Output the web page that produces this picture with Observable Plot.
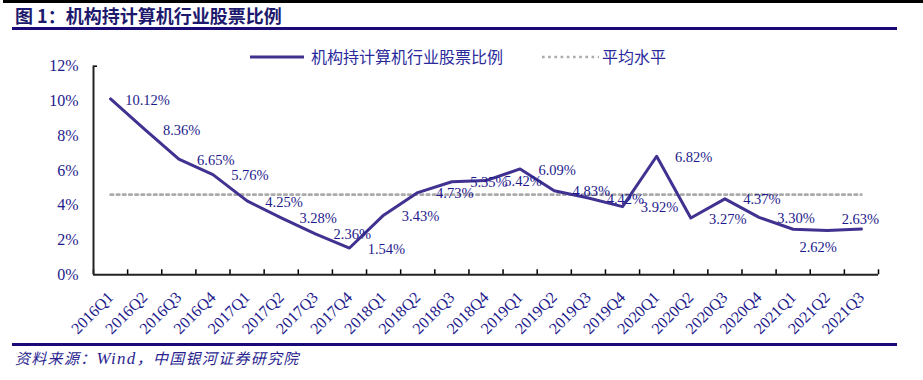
<!DOCTYPE html>
<html>
<head>
<meta charset="utf-8">
<script src="https://cdn.jsdelivr.net/npm/d3@7"></script>
<script src="https://cdn.jsdelivr.net/npm/@observablehq/plot@0.6"></script>
<style>
  html, body { margin: 0; padding: 0; background: #fff; }
  #wrap { position: relative; width: 923px; height: 380px; overflow: hidden; font-family: "Liberation Serif", "Noto Sans CJK SC", serif; }
  .abs { position: absolute; }
  #topline { left: 3px; top: 0; width: 920px; height: 3px; background: #000; }
  #title { left: 15px; top: 3px; font-family: "Noto Sans CJK SC", sans-serif; font-weight: 700; font-size: 18px; color: #1d1a6e; line-height: 24px; white-space: nowrap; }
  #titleline { left: 12px; top: 27px; width: 885px; height: 2.5px; background: #1a0a78; }
  #footline { left: 12px; top: 343px; width: 885px; height: 2.5px; background: #1a0a78; }
  #foot { left: 15px; top: 347px; font-family: "Noto Sans CJK SC", sans-serif; font-style: italic; font-size: 15px; color: #2b1f8f; line-height: 22px; white-space: nowrap; letter-spacing: 1.3px; }
  #foot .lat { font-family: "Liberation Serif", serif; font-size: 17px; }
  .legtext { font-family: "Noto Sans CJK SC", sans-serif; font-size: 16px; color: #2a2a9c; line-height: 20px; white-space: nowrap; top: 46px; }
  #chart { left: 0; top: 40px; }
</style>
</head>
<body>
<div id="wrap">
  <div id="topline" class="abs"></div>
  <div id="title" class="abs">图 1：机构持计算机行业股票比例</div>
  <div id="titleline" class="abs"></div>
  <div id="chart" class="abs"></div>
  <svg class="abs" style="left:248px;top:50px" width="60" height="14"><line x1="2" x2="56" y1="7" y2="7" stroke="#3f3290" stroke-width="3"/></svg>
  <div class="abs legtext" style="left:311px">机构持计算机行业股票比例</div>
  <svg class="abs" style="left:539px;top:50px" width="62" height="14"><line x1="3" x2="60" y1="7" y2="7" stroke="#ababab" stroke-width="2.6" stroke-dasharray="2.6,3.6"/></svg>
  <div class="abs legtext" style="left:602px">平均水平</div>
  <div id="footline" class="abs"></div>
  <div id="foot" class="abs">资料来源：<span class="lat">Wind</span>，中国银河证券研究院</div>
</div>
<script>
// ---- data ----
const quarters = ["2016Q1","2016Q2","2016Q3","2016Q4","2017Q1","2017Q2","2017Q3","2017Q4",
  "2018Q1","2018Q2","2018Q3","2018Q4","2019Q1","2019Q2","2019Q3","2019Q4",
  "2020Q1","2020Q2","2020Q3","2020Q4","2021Q1","2021Q2","2021Q3"];
const shares = [10.12, 8.36, 6.65, 5.76, 4.25, 3.28, 2.36, 1.54,
  3.43, 4.73, 5.35, 5.42, 6.09, 4.83, 4.42, 3.92,
  6.82, 3.27, 4.37, 3.30, 2.62, 2.55, 2.63];
// which points carry a data label in the original
const labelled = [true,true,true,true,true,true,true,true,
  true,true,true,true,true,true,true,true,
  true,true,true,true,true,false,true];
const avgLevel = 4.61;
const yTicks = [0, 2, 4, 6, 8, 10, 12];
const seriesName = "机构持计算机行业股票比例";
const avgName = "平均水平";

const rows = quarters.map((q, i) => ({i, q, v: shares[i], lab: labelled[i]}));
const avgRows = quarters.map((q, i) => ({i, v: avgLevel}));

const navy = "#1e1a8c";
const lineColor = "#3f3290";
const serif = "Liberation Serif";
const fmt = v => v.toFixed(2) + "%";
const n = quarters.length;

const mainLabels = rows.filter(d => d.lab && d.i < n - 3);
const lateA = rows.filter(d => d.lab && d.i === n - 3);
const lateB = rows.filter(d => d.lab && d.i === n - 1);

const chart = Plot.plot({
  width: 923,
  height: 300,
  marginTop: 25.7,
  marginBottom: 65.7,
  marginLeft: 93,
  marginRight: 45,
  x: {type: "linear", domain: [-0.5, n - 0.5], axis: null},
  y: {domain: [0, 12], axis: null},
  style: {fontFamily: serif, background: "transparent", overflow: "visible"},
  marks: [
    Plot.axisY({ticks: yTicks, tickFormat: d => d + "%", tickSize: 0, tickPadding: 15, fontSize: 16, fontFamily: serif, color: navy, label: null}),
    Plot.axisY({ticks: [12], tickFormat: () => "", tickSize: -4, stroke: "#000", strokeWidth: 1.5, label: null}),
    Plot.axisX({ticks: d3.range(n), tickFormat: i => quarters[i], tickSize: 0, tickRotate: -45, tickPadding: 20, fontSize: 16, fontFamily: serif, color: navy, label: null}),
    Plot.axisX({ticks: d3.range(n + 1).map(i => i - 0.5), tickFormat: () => "", tickSize: -5, stroke: "#000", strokeWidth: 1.5, label: null}),
    Plot.line(avgRows, {x: "i", y: "v", stroke: "#ababab", strokeWidth: 2.6, strokeDasharray: "2.6,3.6"}),
    Plot.line(rows, {x: "i", y: "v", stroke: lineColor, strokeWidth: 3, strokeLinejoin: "round"}),
    Plot.ruleY([0], {stroke: "#222", strokeWidth: 2}),
    Plot.ruleX([-0.5], {stroke: "#222", strokeWidth: 2}),
    Plot.text(mainLabels, {x: "i", y: "v", text: d => fmt(d.v), dx: 37, dy: 1, fontSize: 14.5, fontFamily: serif, fill: navy}),
    Plot.text(lateA, {x: "i", y: "v", text: d => fmt(d.v), dx: 25, dy: 18, fontSize: 14.5, fontFamily: serif, fill: navy}),
    Plot.text(lateB, {x: "i", y: "v", text: d => fmt(d.v), dx: -1, dy: -10, fontSize: 14.5, fontFamily: serif, fill: navy})
  ]
});
document.getElementById("chart").appendChild(chart);
</script>
</body>
</html>
